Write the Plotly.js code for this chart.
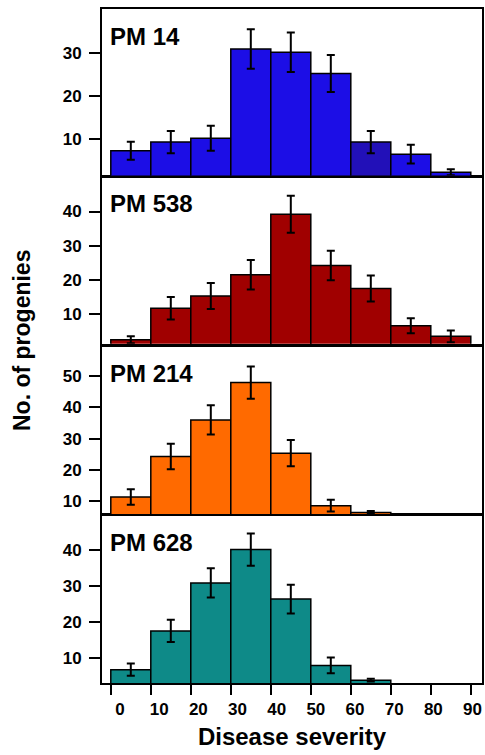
<!DOCTYPE html>
<html>
<head>
<meta charset="utf-8">
<script src="https://cdn.plot.ly/plotly-3.0.1.min.js"></script>
<style>html,body{margin:0;padding:0;background:#fff;}#chart{width:485px;height:755px;}</style>
</head>
<body>
<div id="chart"></div>
<script>
// Bin centres of disease severity (0-10, 10-20, ... 80-90)
const binCenters = [5, 15, 25, 35, 45, 55, 65, 75, 85];
const xTicks = [0, 10, 20, 30, 40, 50, 60, 70, 80, 90];
const panelNames = ["PM 14", "PM 538", "PM 214", "PM 628"];

const pm14 = [7.3, 9.3, 10.2, 31.0, 30.2, 25.3, 9.3, 6.5, 2.3];
const pm14Err = [2.1, 2.6, 2.9, 4.6, 4.6, 4.3, 2.6, 2.2, 0.7];

const pm538 = [2.5, 11.7, 15.3, 21.5, 39.2, 24.2, 17.5, 6.6, 3.5];
const pm538Err = [1.0, 3.3, 3.8, 4.3, 5.4, 4.3, 3.8, 2.2, 1.7];

const pm214 = [11.2, 24.2, 36.0, 48.0, 25.3, 8.4, 6.2, 0, 0];
const pm214Err = [2.5, 4.1, 4.7, 5.2, 4.2, 1.9, 0.5, 0, 0];

const pm628 = [6.7, 17.5, 30.9, 40.2, 26.4, 7.9, 3.8, 0, 0];
const pm628Err = [1.7, 3.1, 4.1, 4.5, 4.0, 2.2, 0.4, 0, 0];

const yTicks1 = [10, 20, 30];
const yTicks2 = [10, 20, 30, 40];
const yTicks3 = [10, 20, 30, 40, 50];
const yTicks4 = [10, 20, 30, 40];

const c14 = ["#1c0ee6","#1c0ee6","#1c0ee6","#1c0ee6","#1c0ee6","#1c0ee6","#2210b8","#1c0ee6","#1c0ee6"];
const c538 = "#a00000";
const c214 = "#ff6a00";
const c628 = "#0e8a88";

const FONT = "Liberation Sans, Arial, sans-serif";

function barTrace(vals, errs, color, xa, ya) {
  return {
    type: "bar", x: binCenters, y: vals, width: 10,
    xaxis: xa, yaxis: ya,
    marker: {color: color, line: {color: "#000", width: 1.5}},
    error_y: {type: "data", array: errs, visible: true, color: "#000", thickness: 2, width: 4},
    hoverinfo: "skip", showlegend: false
  };
}

const data = [
  barTrace(pm14, pm14Err, c14, "x4", "y4"),
  barTrace(pm538, pm538Err, c538, "x3", "y3"),
  barTrace(pm214, pm214Err, c214, "x2", "y2"),
  barTrace(pm628, pm628Err, c628, "x", "y"),
  // empty trace so the label axis exists
  {type: "scatter", x: [], y: [], xaxis: "x5", yaxis: "y", showlegend: false, hoverinfo: "skip"}
];

const tickFont = {family: FONT, size: 17, color: "#000", weight: "bold"};
const xr = [-2.2, 92.8];
const xLabelRange = [-4.6, 92.42];

function xHidden(anchor) {
  return {domain: [0, 1], anchor: anchor, range: xr, matches: "x", showline: true, mirror: true,
    linewidth: 2, linecolor: "#000", showticklabels: false, ticks: "", showgrid: false, zeroline: false};
}
function yAx(domain, range, tv) {
  return {domain: domain, range: range, tickvals: tv, ticks: "outside", ticklen: 11, tickwidth: 2,
    tickcolor: "#000", showline: true, mirror: true, linewidth: 2, linecolor: "#000",
    showgrid: false, zeroline: false, tickfont: tickFont, ticklabelstandoff: 4};
}

const annFont = {family: FONT, size: 24, color: "#000", weight: "bold"};
function ann(text, xref, yref) {
  return {text: text, xref: xref, yref: yref + " domain", x: 0, y: 1, xanchor: "left", yanchor: "middle",
    yshift: -27, xshift: -3, showarrow: false, font: annFont};
}

const layout = {
  width: 485, height: 755,
  margin: {l: 102, r: 3, t: 9, b: 72},
  paper_bgcolor: "#fff", plot_bgcolor: "#fff",
  bargap: 0,
  xaxis: {domain: [0, 1], anchor: "y", range: xr, tickvals: xTicks, ticks: "outside", ticklen: 10,
    tickwidth: 2, tickcolor: "#000", showline: true, mirror: true, linewidth: 2, linecolor: "#000",
    showgrid: false, zeroline: false, showticklabels: false},
  xaxis5: {domain: [0, 1], anchor: "y", overlaying: "x", side: "bottom", range: xLabelRange,
    tickvals: xTicks, ticks: "", showline: false, showgrid: false, zeroline: false,
    tickfont: tickFont, ticklabelstandoff: 14, ticklabeloverflow: "allow",
    title: {text: "Disease severity", font: {family: FONT, size: 24, color: "#000", weight: "bold"}, standoff: 10}},
  xaxis2: xHidden("y2"),
  xaxis3: xHidden("y3"),
  xaxis4: xHidden("y4"),
  yaxis: yAx([0, 0.2486], [3.0, 49.7], yTicks4),
  yaxis2: yAx([0.2506, 0.4992], [5.7, 59.6], yTicks3),
  yaxis3: yAx([0.5032, 0.7508], [1.3, 50.1], yTicks2),
  yaxis4: yAx([0.7528, 1], [1.5, 40.3], yTicks1),
  annotations: [
    ann(panelNames[0], "x4", "y4"),
    ann(panelNames[1], "x3", "y3"),
    ann(panelNames[2], "x2", "y2"),
    ann(panelNames[3], "x", "y"),
    {text: "No. of progenies", xref: "paper", yref: "paper", x: 0, y: 0.5, xshift: -80, yshift: 5, textangle: -90,
      xanchor: "center", yanchor: "middle", showarrow: false,
      font: {family: FONT, size: 23, color: "#000", weight: "bold"}}
  ]
};

Plotly.newPlot("chart", data, layout, {displayModeBar: false, staticPlot: true});
</script>
</body>
</html>
